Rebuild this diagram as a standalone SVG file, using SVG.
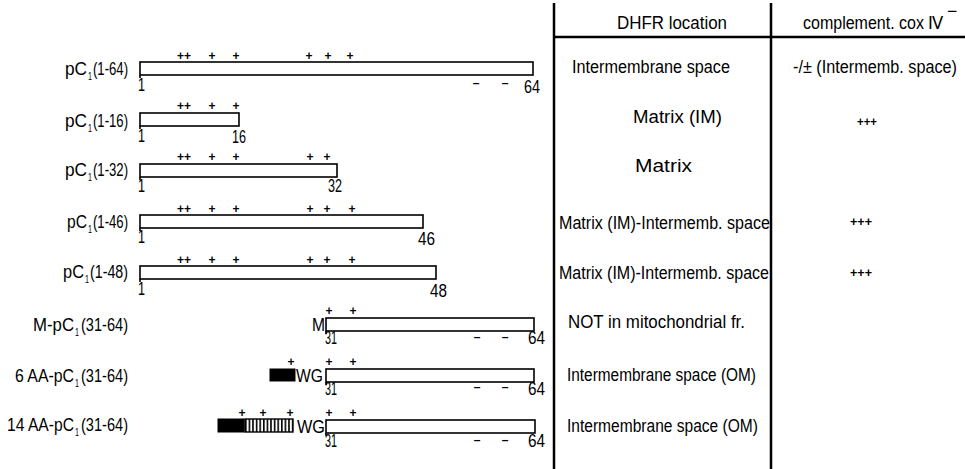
<svg xmlns="http://www.w3.org/2000/svg" width="965" height="469" viewBox="0 0 965 469">
<defs>
<style>
.t{font-family:"Liberation Sans",Arial,sans-serif;font-size:17.5px;fill:#000}
.sub{font-family:"Liberation Sans",Arial,sans-serif;font-size:11px;fill:#000}
.p{font-family:"Liberation Sans",Arial,sans-serif;font-size:12px;font-weight:bold;fill:#000;text-anchor:middle}
.m{font-family:"Liberation Sans",Arial,sans-serif;font-size:12px;font-weight:bold;fill:#000;text-anchor:middle}
.bar{fill:#fff;stroke:#000;stroke-width:1.6}
.tick{fill:none;stroke:#000;stroke-width:1.6}
.blk{fill:#000;stroke:#000;stroke-width:1}
.grid{stroke:#000;stroke-width:2.5;fill:none}
</style>
<pattern id="hatch" x="245" y="0" width="3.6" height="10" patternUnits="userSpaceOnUse">
<rect width="3.6" height="10" fill="#fff"/>
<rect width="1.6" height="10" fill="#000"/>
</pattern>
</defs>
<rect width="965" height="469" fill="#fff"/>

<g id="table-lines">
<line class="grid" x1="554" y1="3" x2="554" y2="469"/>
<line class="grid" x1="771" y1="3" x2="771" y2="469"/>
<line class="grid" x1="553" y1="37" x2="965" y2="37" stroke-width="2"/>
</g>

<g id="header">
<text class="t" x="617" y="29" textLength="110" lengthAdjust="spacingAndGlyphs">DHFR  location</text>
<text class="t" x="803" y="29" textLength="141" lengthAdjust="spacingAndGlyphs">complement.  cox Ⅳ</text>
<text class="t" x="947" y="17" font-size="12">−</text>
</g>

<g id="row1">
<text class="t" x="65" y="75" textLength="22" lengthAdjust="spacingAndGlyphs">pC</text>
<text class="sub" x="88" y="80" textLength="4" lengthAdjust="spacingAndGlyphs">1</text>
<text class="t" x="93" y="75" textLength="35" lengthAdjust="spacingAndGlyphs">(1-64)</text>
<rect class="bar" x="140" y="62" width="393" height="13"/>
<line class="tick" x1="140" y1="75" x2="140" y2="78"/>
<text class="p" y="60"><tspan x="184">++</tspan><tspan x="212">+</tspan><tspan x="236">+</tspan><tspan x="309">+</tspan><tspan x="328">+</tspan><tspan x="350">+</tspan></text>
<text class="m" y="87"><tspan x="476">–</tspan><tspan x="505">–</tspan></text>
<text class="t" x="138" y="91" textLength="7" lengthAdjust="spacingAndGlyphs">1</text>
<text class="t" x="524" y="93" textLength="16" lengthAdjust="spacingAndGlyphs">64</text>
<text class="t" x="572" y="73" textLength="158" lengthAdjust="spacingAndGlyphs">Intermembrane  space</text>
<text class="t" x="793" y="73" textLength="164" lengthAdjust="spacingAndGlyphs">-/± (Intermemb. space)</text>
</g>

<g id="row2">
<text class="t" x="65" y="127" textLength="22" lengthAdjust="spacingAndGlyphs">pC</text>
<text class="sub" x="88" y="132" textLength="4" lengthAdjust="spacingAndGlyphs">1</text>
<text class="t" x="93" y="127" textLength="35" lengthAdjust="spacingAndGlyphs">(1-16)</text>
<rect class="bar" x="140" y="113" width="99" height="13"/>
<line class="tick" x1="140" y1="126" x2="140" y2="129"/>
<text class="p" y="110"><tspan x="184">++</tspan><tspan x="212">+</tspan><tspan x="236">+</tspan></text>
<text class="t" x="138" y="142" textLength="7" lengthAdjust="spacingAndGlyphs">1</text>
<text class="t" x="232" y="143" textLength="14" lengthAdjust="spacingAndGlyphs">16</text>
<text class="t" x="633" y="123" textLength="89" lengthAdjust="spacingAndGlyphs">Matrix  (IM)</text>
<text class="p" x="867" y="126" textLength="20" lengthAdjust="spacingAndGlyphs">+++</text>
</g>

<g id="row3">
<text class="t" x="65" y="176" textLength="22" lengthAdjust="spacingAndGlyphs">pC</text>
<text class="sub" x="88" y="181" textLength="4" lengthAdjust="spacingAndGlyphs">1</text>
<text class="t" x="93" y="176" textLength="35" lengthAdjust="spacingAndGlyphs">(1-32)</text>
<rect class="bar" x="140" y="164" width="197" height="13"/>
<line class="tick" x1="140" y1="177" x2="140" y2="180"/>
<text class="p" y="161"><tspan x="184">++</tspan><tspan x="212">+</tspan><tspan x="236">+</tspan><tspan x="310">+</tspan><tspan x="327">+</tspan></text>
<text class="t" x="138" y="192" textLength="7" lengthAdjust="spacingAndGlyphs">1</text>
<text class="t" x="328" y="192" textLength="14" lengthAdjust="spacingAndGlyphs">32</text>
<text class="t" x="635" y="172" textLength="57" lengthAdjust="spacingAndGlyphs">Matrix</text>
</g>

<g id="row4">
<text class="t" x="67" y="228" textLength="20" lengthAdjust="spacingAndGlyphs">pC</text>
<text class="sub" x="88" y="233" textLength="4" lengthAdjust="spacingAndGlyphs">1</text>
<text class="t" x="93" y="228" textLength="35" lengthAdjust="spacingAndGlyphs">(1-46)</text>
<rect class="bar" x="140" y="215" width="283" height="13"/>
<line class="tick" x1="140" y1="228" x2="140" y2="231"/>
<text class="p" y="213"><tspan x="184">++</tspan><tspan x="212">+</tspan><tspan x="236">+</tspan><tspan x="310">+</tspan><tspan x="327">+</tspan><tspan x="352">+</tspan></text>
<text class="t" x="138" y="243" textLength="7" lengthAdjust="spacingAndGlyphs">1</text>
<text class="t" x="418" y="245" textLength="17" lengthAdjust="spacingAndGlyphs">46</text>
<text class="t" x="559" y="229" textLength="211" lengthAdjust="spacingAndGlyphs">Matrix (IM)-Intermemb. space</text>
<text class="p" x="861" y="226" textLength="22" lengthAdjust="spacingAndGlyphs">+++</text>
</g>

<g id="row5">
<text class="t" x="63" y="278" textLength="21" lengthAdjust="spacingAndGlyphs">pC</text>
<text class="sub" x="85" y="283" textLength="4" lengthAdjust="spacingAndGlyphs">1</text>
<text class="t" x="90" y="278" textLength="38" lengthAdjust="spacingAndGlyphs">(1-48)</text>
<rect class="bar" x="140" y="266" width="296" height="13"/>
<line class="tick" x1="140" y1="279" x2="140" y2="282"/>
<text class="p" y="264"><tspan x="184">++</tspan><tspan x="212">+</tspan><tspan x="236">+</tspan><tspan x="310">+</tspan><tspan x="327">+</tspan><tspan x="352">+</tspan></text>
<text class="t" x="138" y="295" textLength="7" lengthAdjust="spacingAndGlyphs">1</text>
<text class="t" x="430" y="297" textLength="17" lengthAdjust="spacingAndGlyphs">48</text>
<text class="t" x="559" y="279" textLength="210" lengthAdjust="spacingAndGlyphs">Matrix (IM)-Intermemb. space</text>
<text class="p" x="861" y="277" textLength="22" lengthAdjust="spacingAndGlyphs">+++</text>
</g>

<g id="row6">
<text class="t" x="33" y="331" textLength="41" lengthAdjust="spacingAndGlyphs">M-pC</text>
<text class="sub" x="75" y="336" textLength="4" lengthAdjust="spacingAndGlyphs">1</text>
<text class="t" x="81" y="331" textLength="47" lengthAdjust="spacingAndGlyphs">(31-64)</text>
<text class="t" x="312" y="331" textLength="13" lengthAdjust="spacingAndGlyphs">M</text>
<rect class="bar" x="326" y="318" width="208" height="13"/>
<line class="tick" x1="326" y1="331" x2="326" y2="334"/>
<text class="p" y="315"><tspan x="329">+</tspan><tspan x="353">+</tspan></text>
<text class="m" y="341"><tspan x="477">–</tspan><tspan x="505">–</tspan></text>
<text class="t" x="325" y="344" textLength="12" lengthAdjust="spacingAndGlyphs">31</text>
<text class="t" x="528" y="344" textLength="17" lengthAdjust="spacingAndGlyphs">64</text>
<text class="t" x="568" y="328" textLength="177" lengthAdjust="spacingAndGlyphs">NOT  in  mitochondrial  fr.</text>
</g>

<g id="row7">
<text class="t" x="15" y="382" textLength="59" lengthAdjust="spacingAndGlyphs">6 AA-pC</text>
<text class="sub" x="75" y="387" textLength="4" lengthAdjust="spacingAndGlyphs">1</text>
<text class="t" x="81" y="382" textLength="47" lengthAdjust="spacingAndGlyphs">(31-64)</text>
<rect class="blk" x="270" y="369" width="25" height="12"/>
<text class="t" x="296" y="382" textLength="27" lengthAdjust="spacingAndGlyphs">WG</text>
<rect class="bar" x="326" y="369" width="208" height="13"/>
<line class="tick" x1="326" y1="382" x2="326" y2="385"/>
<text class="p" y="366"><tspan x="291">+</tspan><tspan x="329">+</tspan><tspan x="353">+</tspan></text>
<text class="m" y="391"><tspan x="477">–</tspan><tspan x="505">–</tspan></text>
<text class="t" x="325" y="395" textLength="12" lengthAdjust="spacingAndGlyphs">31</text>
<text class="t" x="528" y="395" textLength="17" lengthAdjust="spacingAndGlyphs">64</text>
<text class="t" x="567" y="381" textLength="189" lengthAdjust="spacingAndGlyphs">Intermembrane  space (OM)</text>
</g>

<g id="row8">
<text class="t" x="7" y="431" textLength="67" lengthAdjust="spacingAndGlyphs">14 AA-pC</text>
<text class="sub" x="75" y="436" textLength="4" lengthAdjust="spacingAndGlyphs">1</text>
<text class="t" x="81" y="431" textLength="47" lengthAdjust="spacingAndGlyphs">(31-64)</text>
<rect class="blk" x="218" y="419" width="26" height="13"/>
<rect x="245" y="419" width="48" height="13" fill="url(#hatch)" stroke="#000" stroke-width="1.4"/>
<text class="t" x="297" y="433" textLength="28" lengthAdjust="spacingAndGlyphs">WG</text>
<rect class="bar" x="326" y="420" width="209" height="13"/>
<line class="tick" x1="326" y1="433" x2="326" y2="436"/>
<text class="p" y="417"><tspan x="242">+</tspan><tspan x="263">+</tspan><tspan x="290">+</tspan><tspan x="329">+</tspan><tspan x="353">+</tspan></text>
<text class="m" y="444"><tspan x="477">–</tspan><tspan x="505">–</tspan></text>
<text class="t" x="325" y="447" textLength="12" lengthAdjust="spacingAndGlyphs">31</text>
<text class="t" x="528" y="447" textLength="17" lengthAdjust="spacingAndGlyphs">64</text>
<text class="t" x="567" y="432" textLength="191" lengthAdjust="spacingAndGlyphs">Intermembrane  space (OM)</text>
</g>
</svg>
